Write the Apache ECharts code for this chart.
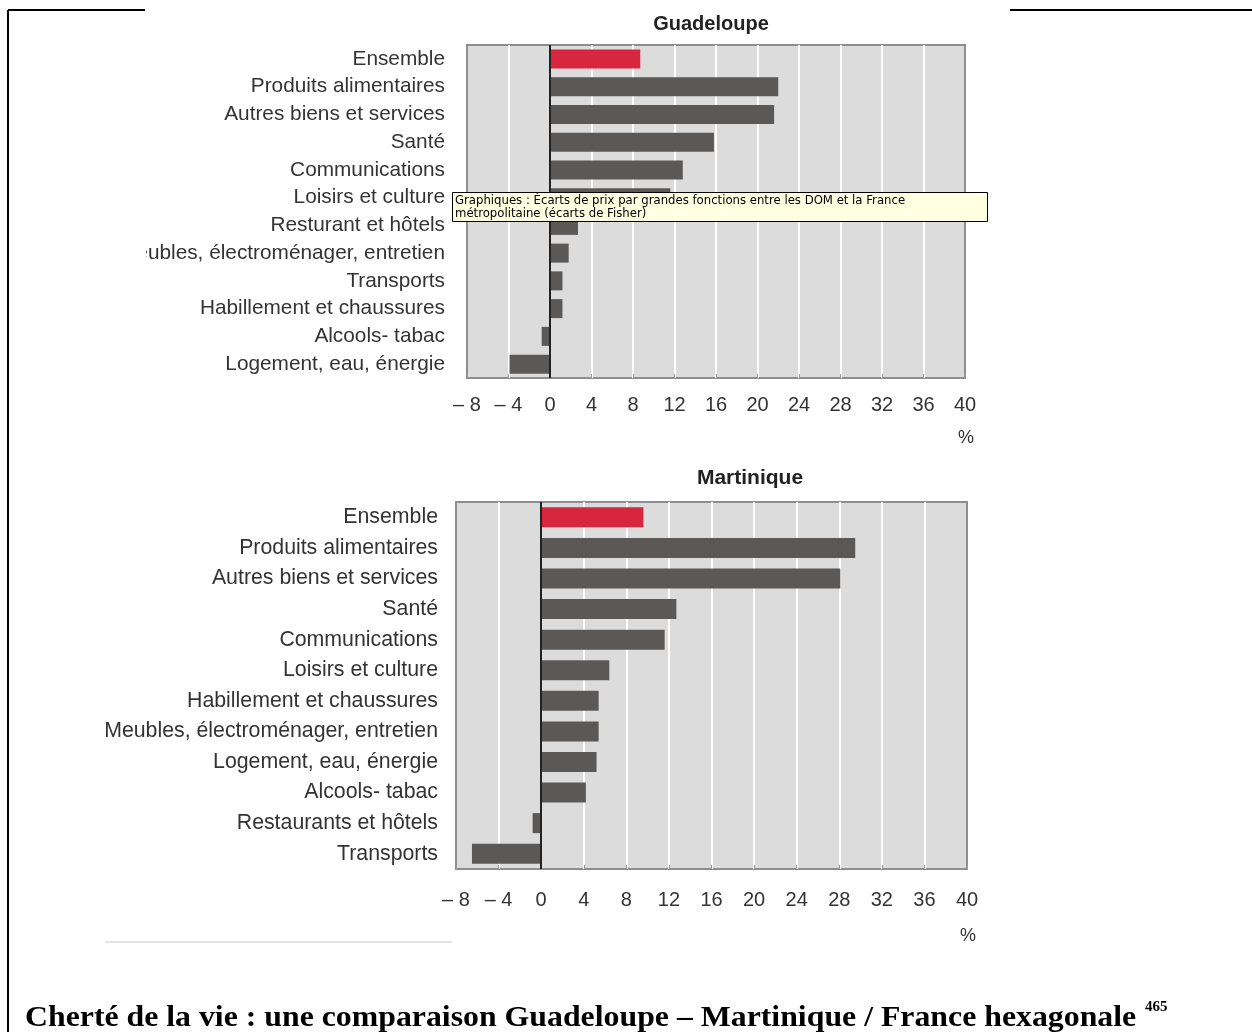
<!DOCTYPE html>
<html>
<head>
<meta charset="utf-8">
<script src="https://cdn.jsdelivr.net/npm/echarts@6/dist/echarts.min.js"></script>
<style>
  html, body { margin: 0; padding: 0; background: #fff; }
  #chart { width: 1252px; height: 1032px; }
</style>
</head>
<body>
<div id="chart"></div>
<script>
// ---- data ----
const categoriesGuadeloupe = [
  'Ensemble', 'Produits alimentaires', 'Autres biens et services', 'Santé',
  'Communications', 'Loisirs et culture', 'Resturant et hôtels',
  'Meubles, électroménager, entretien', 'Transports', 'Habillement et chaussures',
  'Alcools- tabac', 'Logement, eau, énergie'
];
const valuesGuadeloupe = [8.7, 22.0, 21.6, 15.8, 12.8, 11.6, 2.7, 1.8, 1.2, 1.2, -0.8, -3.9];

const categoriesMartinique = [
  'Ensemble', 'Produits alimentaires', 'Autres biens et services', 'Santé',
  'Communications', 'Loisirs et culture', 'Habillement et chaussures',
  'Meubles, électroménager, entretien', 'Logement, eau, énergie',
  'Alcools- tabac', 'Restaurants et hôtels', 'Transports'
];
const valuesMartinique = [9.6, 29.5, 28.1, 12.7, 11.6, 6.4, 5.4, 5.4, 5.2, 4.2, -0.8, -6.5];

const axisMin = -8, axisMax = 40, axisInterval = 4;
const titles = ['Guadeloupe', 'Martinique'];
const unitLabel = '%';
const tooltipLines = [
  'Graphiques : Écarts de prix par grandes fonctions entre les DOM et la France',
  'métropolitaine (écarts de Fisher)'
];
const caption = 'Cherté de la vie : une comparaison Guadeloupe – Martinique / France hexagonale';
const footnote = '465';

// ---- styles ----
const RED = '#d7263d';
const GRAY = '#5b5858';
const PLOT_BG = '#dcdcdc';
const LABEL_FONT = '"Liberation Sans", Arial, Helvetica, sans-serif';

const chart = echarts.init(document.getElementById('chart'), null, { renderer: 'canvas' });

function fmtTick(v) { return v < 0 ? '\u2013 ' + Math.abs(v) : String(v); }

function makeXAxis(gridIndex, margin) {
  return {
    type: 'value', gridIndex, min: axisMin, max: axisMax, interval: axisInterval,
    axisLine: { show: false },
    axisTick: { show: true, inside: true, length: 4, lineStyle: { color: '#9a9a9a' } },
    splitLine: { show: true, showMinLine: false, showMaxLine: false, lineStyle: { color: '#ffffff', width: 2 } },
    axisLabel: { formatter: fmtTick, fontSize: 20, color: '#333', fontFamily: LABEL_FONT, margin }
  };
}
function makeYAxis(gridIndex, cats, margin, fs) {
  return {
    type: 'category', gridIndex, data: cats, inverse: true,
    axisLine: { show: false }, axisTick: { show: false },
    splitLine: { show: false },
    axisLabel: { fontSize: fs, color: '#333', fontFamily: LABEL_FONT, margin }
  };
}
function makeSeries(idx, values, barWidth) {
  return {
    type: 'bar', xAxisIndex: idx, yAxisIndex: idx, data: values, barWidth,
    itemStyle: { color: p => (p.dataIndex === 0 ? RED : GRAY) },
    silent: true,
    markLine: {
      silent: true, symbol: ['none', 'none'], label: { show: false },
      lineStyle: { color: '#222', width: 2, type: 'solid' },
      data: [{ xAxis: 0 }], animation: false
    },
    animation: false
  };
}

const option = {
  backgroundColor: '#ffffff',
  animation: false,
  grid: [
    { left: 467, top: 45, width: 498, height: 333, show: true, backgroundColor: PLOT_BG, borderColor: '#8e8e8e', borderWidth: 2 },
    { left: 456, top: 502, width: 511, height: 367, show: true, backgroundColor: PLOT_BG, borderColor: '#8e8e8e', borderWidth: 2 }
  ],
  xAxis: [makeXAxis(0, 17), makeXAxis(1, 21)],
  yAxis: [makeYAxis(0, categoriesGuadeloupe, 22, 20.8), makeYAxis(1, categoriesMartinique, 18, 21.3)],
  series: [makeSeries(0, valuesGuadeloupe, 19), makeSeries(1, valuesMartinique, 20)],
  graphic: [
    // page frame lines
    { type: 'line', z: 100, shape: { x1: 8, y1: 10, x2: 8, y2: 1032 }, style: { stroke: '#000', lineWidth: 2 } },
    { type: 'line', z: 100, shape: { x1: 8, y1: 10, x2: 145, y2: 10 }, style: { stroke: '#000', lineWidth: 2 } },
    { type: 'line', z: 100, shape: { x1: 1010, y1: 10, x2: 1252, y2: 10 }, style: { stroke: '#000', lineWidth: 2 } },
    // clipped label edge of pasted image
    { type: 'rect', z: 90, shape: { x: 100, y: 240, width: 46, height: 28 }, style: { fill: '#fff' } },
    { type: 'line', z: 90, shape: { x1: 105, y1: 942, x2: 452, y2: 942 }, style: { stroke: '#e4e4e4', lineWidth: 2 } },
    // titles
    { type: 'text', z: 100, x: 711, y: 24, style: { text: titles[0], fill: '#222', font: 'bold 20px "Liberation Sans Narrow", "Liberation Sans", Arial', align: 'center', verticalAlign: 'middle' } },
    { type: 'text', z: 100, x: 750, y: 478, style: { text: titles[1], fill: '#222', font: 'bold 21px "Liberation Sans Narrow", "Liberation Sans", Arial', align: 'center', verticalAlign: 'middle' } },
    // unit labels
    { type: 'text', z: 100, x: 966, y: 438, style: { text: unitLabel, fill: '#333', font: '18px "Liberation Sans", Arial', align: 'center', verticalAlign: 'middle' } },
    { type: 'text', z: 100, x: 968, y: 936, style: { text: unitLabel, fill: '#333', font: '18px "Liberation Sans", Arial', align: 'center', verticalAlign: 'middle' } },
    // tooltip-like note box
    { type: 'rect', z: 110, shape: { x: 452.5, y: 192.5, width: 535, height: 29 }, style: { fill: '#ffffe1', stroke: '#000', lineWidth: 1 } },
    { type: 'text', z: 111, x: 455, y: 201, style: { text: tooltipLines[0], fill: '#000', font: '11.7px "DejaVu Sans", Tahoma, sans-serif', align: 'left', verticalAlign: 'middle' } },
    { type: 'text', z: 111, x: 455, y: 214, style: { text: tooltipLines[1], fill: '#000', font: '11.7px "DejaVu Sans", Tahoma, sans-serif', align: 'left', verticalAlign: 'middle' } },
    // caption
    { type: 'text', z: 100, x: 25, y: 1018, scaleX: 1.06, style: { text: caption, fill: '#000', font: 'bold 30px "Liberation Serif", "Times New Roman", serif', align: 'left', verticalAlign: 'middle' } },
    { type: 'text', z: 100, x: 1145, y: 1007, style: { text: footnote, fill: '#000', font: 'bold 15px "Liberation Serif", serif', align: 'left', verticalAlign: 'middle' } }
  ]
};
chart.setOption(option);
</script>
</body>
</html>
